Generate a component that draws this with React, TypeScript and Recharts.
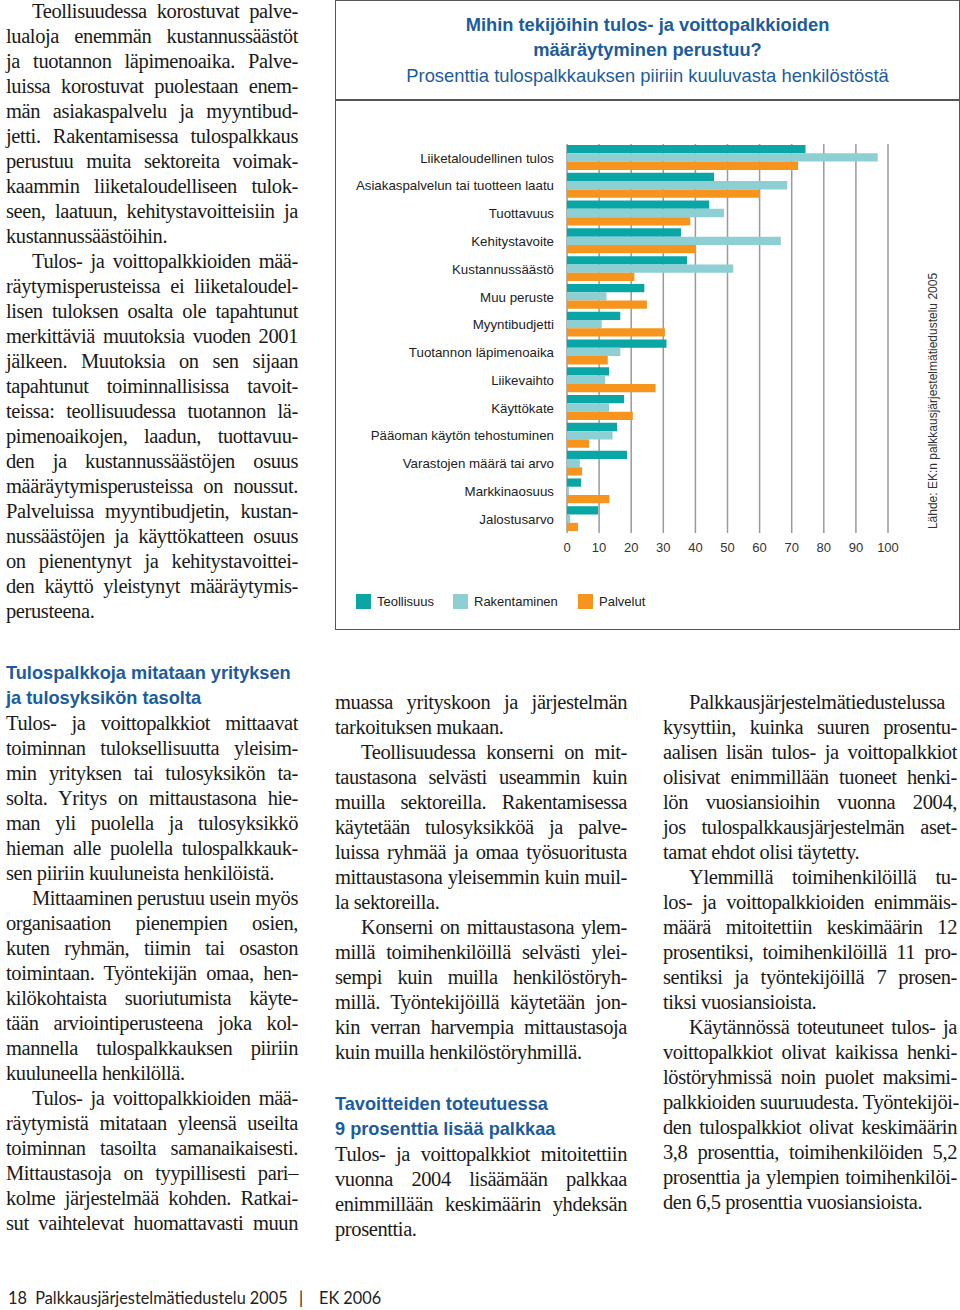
import { BarChart, Bar, XAxis, YAxis, CartesianGrid } from 'recharts';

// Chart data (percent of staff in profit-related pay)
const categories = [
  'Liiketaloudellinen tulos',
  'Asiakaspalvelun tai tuotteen laatu',
  'Tuottavuus',
  'Kehitystavoite',
  'Kustannussäästö',
  'Muu peruste',
  'Myyntibudjetti',
  'Tuotannon läpimenoaika',
  'Liikevaihto',
  'Käyttökate',
  'Pääoman käytön tehostuminen',
  'Varastojen määrä tai arvo',
  'Markkinaosuus',
  'Jalostusarvo',
];
const teollisuus = [74.3, 45.8, 44.3, 35.5, 37.4, 24.1, 16.6, 31.0, 13.1, 17.8, 15.6, 18.7, 4.4, 9.7];
const rakentaminen = [96.8, 68.6, 48.9, 66.6, 51.8, 12.3, 10.8, 16.6, 11.9, 13.1, 14.2, 4.0, 0.6, 1.0];
const palvelut = [72.0, 60.1, 38.4, 40.1, 21.0, 24.9, 30.5, 12.7, 27.6, 20.5, 6.9, 4.7, 13.2, 3.4];
const xTicks = [0, 10, 20, 30, 40, 50, 60, 70, 80, 90, 100];
const seriesNames = ['Teollisuus', 'Rakentaminen', 'Palvelut'];
const seriesColors = ['#0aa6a6', '#8dcfd3', '#f7941d'];

const chartTitle = ['Mihin tekijöihin tulos- ja voittopalkkioiden', 'määräytyminen perustuu?'];
const chartSubtitle = 'Prosenttia tulospalkkauksen piiriin kuuluvasta henkilöstöstä';
const sourceText = 'Lähde: EK:n palkkausjärjestelmätiedustelu 2005';

// Page text
const introParas = [
  { indent: true, lines: [
    'Teollisuudessa korostuvat palve-',
    'lualoja enemmän kustannussäästöt',
    'ja tuotannon läpimenoaika. Palve-',
    'luissa korostuvat puolestaan enem-',
    'män asiakaspalvelu ja myyntibud-',
    'jetti. Rakentamisessa tulospalkkaus',
    'perustuu muita sektoreita voimak-',
    'kaammin liiketaloudelliseen tulok-',
    'seen, laatuun, kehitystavoitteisiin ja',
    'kustannussäästöihin.',
  ] },
  { indent: true, lines: [
    'Tulos- ja voittopalkkioiden mää-',
    'räytymisperusteissa ei liiketaloudel-',
    'lisen tuloksen osalta ole tapahtunut',
    'merkittäviä muutoksia vuoden 2001',
    'jälkeen. Muutoksia on sen sijaan',
    'tapahtunut toiminnallisissa tavoit-',
    'teissa: teollisuudessa tuotannon lä-',
    'pimenoaikojen, laadun, tuottavuu-',
    'den ja kustannussäästöjen osuus',
    'määräytymisperusteissa on noussut.',
    'Palveluissa myyntibudjetin, kustan-',
    'nussäästöjen ja käyttökatteen osuus',
    'on pienentynyt ja kehitystavoittei-',
    'den käyttö yleistynyt määräytymis-',
    'perusteena.',
  ] },
];

const heading1 = ['Tulospalkkoja mitataan yrityksen', 'ja tulosyksikön tasolta'];
const col1Paras = [
  { indent: false, lines: [
    'Tulos- ja voittopalkkiot mittaavat',
    'toiminnan tuloksellisuutta yleisim-',
    'min yrityksen tai tulosyksikön ta-',
    'solta. Yritys on mittaustasona hie-',
    'man yli puolella ja tulosyksikkö',
    'hieman alle puolella tulospalkkauk-',
    'sen piiriin kuuluneista henkilöistä.',
  ] },
  { indent: true, lines: [
    'Mittaaminen perustuu usein myös',
    'organisaation pienempien osien,',
    'kuten ryhmän, tiimin tai osaston',
    'toimintaan. Työntekijän omaa, hen-',
    'kilökohtaista suoriutumista käyte-',
    'tään arviointiperusteena joka kol-',
    'mannella tulospalkkauksen piiriin',
    'kuuluneella henkilöllä.',
  ] },
  { indent: true, cont: true, lines: [
    'Tulos- ja voittopalkkioiden mää-',
    'räytymistä mitataan yleensä useilta',
    'toiminnan tasoilta samanaikaisesti.',
    'Mittaustasoja on tyypillisesti pari–',
    'kolme järjestelmää kohden. Ratkai-',
    'sut vaihtelevat huomattavasti muun',
  ] },
];

const col2Paras = [
  { indent: false, lines: [
    'muassa yrityskoon ja järjestelmän',
    'tarkoituksen mukaan.',
  ] },
  { indent: true, lines: [
    'Teollisuudessa konserni on mit-',
    'taustasona selvästi useammin kuin',
    'muilla sektoreilla. Rakentamisessa',
    'käytetään tulosyksikköä ja palve-',
    'luissa ryhmää ja omaa työsuoritusta',
    'mittaustasona yleisemmin kuin muil-',
    'la sektoreilla.',
  ] },
  { indent: true, lines: [
    'Konserni on mittaustasona ylem-',
    'millä toimihenkilöillä selvästi ylei-',
    'sempi kuin muilla henkilöstöryh-',
    'millä. Työntekijöillä käytetään jon-',
    'kin verran harvempia mittaustasoja',
    'kuin muilla henkilöstöryhmillä.',
  ] },
];

const heading2 = ['Tavoitteiden toteutuessa', '9 prosenttia lisää palkkaa'];
const col2bParas = [
  { indent: false, lines: [
    'Tulos- ja voittopalkkiot mitoitettiin',
    'vuonna 2004 lisäämään palkkaa',
    'enimmillään keskimäärin yhdeksän',
    'prosenttia.',
  ] },
];

const col3Paras = [
  { indent: true, lines: [
    'Palkkausjärjestelmätiedustelussa',
    'kysyttiin, kuinka suuren prosentu-',
    'aalisen lisän tulos- ja voittopalkkiot',
    'olisivat enimmillään tuoneet henki-',
    'lön vuosiansioihin vuonna 2004,',
    'jos tulospalkkausjärjestelmän aset-',
    'tamat ehdot olisi täytetty.',
  ] },
  { indent: true, lines: [
    'Ylemmillä toimihenkilöillä tu-',
    'los- ja voittopalkkioiden enimmäis-',
    'määrä mitoitettiin keskimäärin 12',
    'prosentiksi, toimihenkilöillä 11 pro-',
    'sentiksi ja työntekijöillä 7 prosen-',
    'tiksi vuosiansioista.',
  ] },
  { indent: true, lines: [
    'Käytännössä toteutuneet tulos- ja',
    'voittopalkkiot olivat kaikissa henki-',
    'löstöryhmissä noin puolet maksimi-',
    'palkkioiden suuruudesta. Työntekijöi-',
    'den tulospalkkiot olivat keskimäärin',
    '3,8 prosenttia, toimihenkilöiden 5,2',
    'prosenttia ja ylempien toimihenkilöi-',
    'den 6,5 prosenttia vuosiansioista.',
  ] },
];

const footerText = '18  Palkkausjärjestelmätiedustelu 2005';
const footerRight = 'EK 2006';

const SERIF = '"Liberation Serif", "Times New Roman", serif';
const SANS = '"Liberation Sans", Arial, sans-serif';
const BLUE = '#1b5c9e';
const LINE_H = 25;

type Para = { indent: boolean; cont?: boolean; lines: string[] };

function TextBlock({ x, y, width, paras }: { x: number; y: number; width: number; paras: Para[] }) {
  const out: JSX.Element[] = [];
  let row = 0;
  paras.forEach((p, pi) => {
    p.lines.forEach((line, li) => {
      const ind = p.indent && li === 0 ? 26 : 0;
      const isLast = li === p.lines.length - 1 && !p.cont;
      out.push(
        <div
          key={`${pi}-${li}`}
          style={{
            position: 'absolute',
            left: x + ind,
            top: y - LINE_H / 2 + row * LINE_H,
            width: width - ind,
            height: LINE_H,
            lineHeight: `${LINE_H}px`,
            fontFamily: SERIF,
            fontSize: 20.5,
            letterSpacing: -0.4,
            color: '#1a1a1a',
            whiteSpace: 'nowrap',
            textAlign: 'justify',
            textAlignLast: isLast ? 'left' : 'justify',
          }}
        >
          {line}
        </div>
      );
      row++;
    });
  });
  return <>{out}</>;
}

function Heading({ x, y, lines }: { x: number; y: number; lines: string[] }) {
  return (
    <>
      {lines.map((l, i) => (
        <div
          key={i}
          style={{
            position: 'absolute', left: x, top: y - 12 + i * 25, height: 24, lineHeight: '24px',
            fontFamily: SANS, fontWeight: 'bold', fontSize: 18.2, color: BLUE, whiteSpace: 'nowrap',
          }}
        >
          {l}
        </div>
      ))}
    </>
  );
}

export default function App() {
  const data = categories.map((name, i) => ({
    name,
    teollisuus: teollisuus[i],
    rakentaminen: rakentaminen[i],
    palvelut: palvelut[i],
  }));
  const keys = ['teollisuus', 'rakentaminen', 'palvelut'];
  const legendX = [356, 453, 578];

  return (
    <div style={{ position: 'absolute', left: 0, top: 0, width: 960, height: 1310, background: '#fff', overflow: 'hidden' }}>
      <TextBlock x={6} y={11} width={292} paras={introParas} />

      {/* chart frame */}
      <div style={{ position: 'absolute', left: 335, top: 0, width: 625, height: 630, border: '1.5px solid #555', boxSizing: 'border-box' }} />
      <div style={{ position: 'absolute', left: 335, top: 99, width: 625, height: 1.5, background: '#555' }} />
      {chartTitle.map((t, i) => (
        <div key={i} style={{ position: 'absolute', left: 335, width: 625, top: 14 + i * 25, textAlign: 'center', fontFamily: SANS, fontWeight: 'bold', fontSize: 18.3, color: BLUE, lineHeight: '22px' }}>
          {t}
        </div>
      ))}
      <div style={{ position: 'absolute', left: 335, width: 625, top: 65, textAlign: 'center', fontFamily: SANS, fontSize: 18.4, color: BLUE, lineHeight: '22px' }}>
        {chartSubtitle}
      </div>

      <div style={{ position: 'absolute', left: 335, top: 0 }}>
        <BarChart
          width={625}
          height={630}
          data={data}
          layout="vertical"
          margin={{ top: 144, right: 72, bottom: 67, left: 0 }}
          barGap={0}
          barSize={8.3}
        >
          <CartesianGrid horizontal={false} stroke="#9a9a9a" strokeWidth={1.5} />
          <XAxis
            type="number"
            domain={[0, 100]}
            ticks={xTicks}
            axisLine={false}
            tickLine={false}
            tickSize={0}
            tickMargin={10}
            height={30}
            tick={{ fontFamily: SANS, fontSize: 13, fill: '#333' }}
          />
          <YAxis
            type="category"
            dataKey="name"
            width={232}
            axisLine={false}
            tickLine={false}
            tickSize={0}
            tickMargin={13}
            interval={0}
            tick={{ fontFamily: SANS, fontSize: 13.3, fill: '#222' }}
          />
          {keys.map((k, i) => (
            <Bar key={k} dataKey={k} name={seriesNames[i]} fill={seriesColors[i]} isAnimationActive={false} />
          ))}
        </BarChart>
      </div>

      {/* legend */}
      {seriesNames.map((n, i) => (
        <div key={n} style={{ position: 'absolute', left: legendX[i], top: 593, height: 16, display: 'flex', alignItems: 'center' }}>
          <div style={{ width: 15, height: 15, background: seriesColors[i] }} />
          <span style={{ marginLeft: 6, fontFamily: SANS, fontSize: 13, color: '#222' }}>{n}</span>
        </div>
      ))}

      {/* source */}
      <div style={{ position: 'absolute', left: 933 - 160, top: 401 - 8, width: 320, height: 16, lineHeight: '16px', textAlign: 'center', transform: 'rotate(-90deg)', fontFamily: SANS, fontSize: 12, color: '#333' }}>
        {sourceText}
      </div>

      {/* bottom columns */}
      <Heading x={6} y={673} lines={heading1} />
      <TextBlock x={6} y={723} width={292} paras={col1Paras as Para[]} />

      <TextBlock x={335} y={702} width={292} paras={col2Paras} />
      <Heading x={335} y={1104} lines={heading2} />
      <TextBlock x={335} y={1154} width={292} paras={col2bParas} />

      <TextBlock x={663} y={702} width={294} paras={col3Paras} />

      {/* footer */}
      <div style={{ position: 'absolute', left: 8, top: 1288, fontFamily: 'Lato, sans-serif', fontSize: 16.3, color: '#222', whiteSpace: 'pre', lineHeight: '20px' }}>
        {footerText}
      </div>
      <div style={{ position: 'absolute', left: 299, top: 1288, fontFamily: 'Lato, sans-serif', fontSize: 16.3, color: '#222', lineHeight: '20px' }}>|</div>
      <div style={{ position: 'absolute', left: 319, top: 1288, fontFamily: 'Lato, sans-serif', fontSize: 16.3, color: '#222', lineHeight: '20px' }}>{footerRight}</div>
    </div>
  );
}
